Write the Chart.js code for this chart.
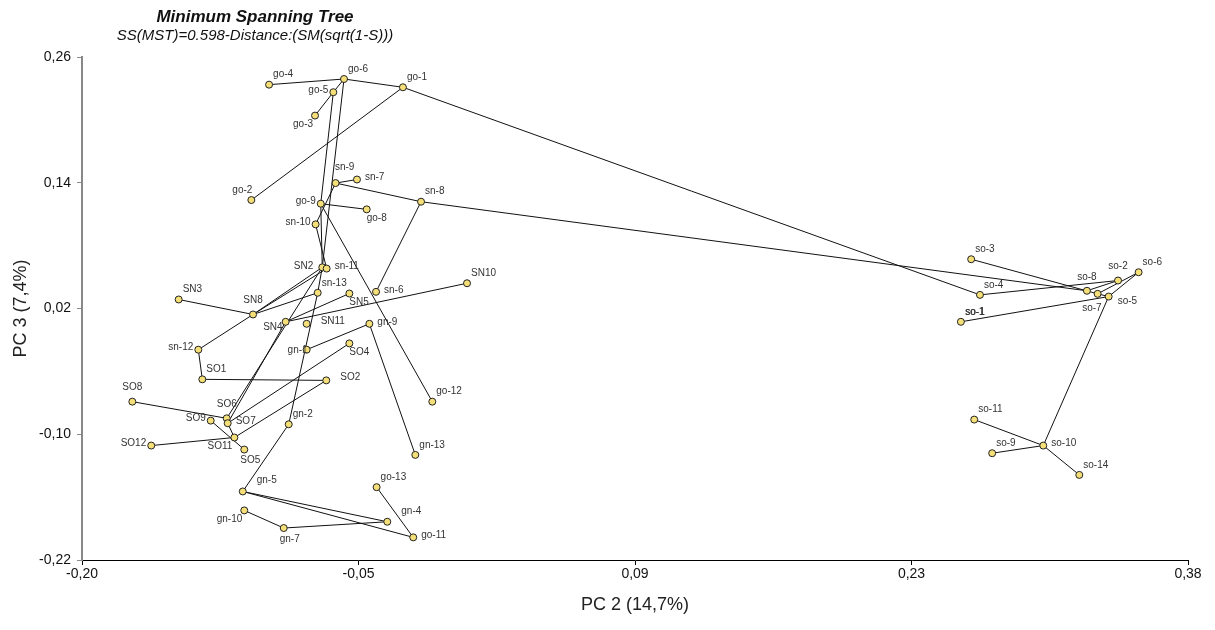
<!DOCTYPE html>
<html>
<head>
<meta charset="utf-8">
<script src="https://cdn.jsdelivr.net/npm/chart.js@4"></script>
<style>
  html, body { margin: 0; padding: 0; background: #fff; }
  #wrap { width: 1215px; height: 630px; }
</style>
</head>
<body>
<div id="wrap"><canvas id="mst"></canvas></div>
<script>
/* 점 이름 / 좌표 (PC2, PC3) */
const names = ['go-4','go-6','go-5','go-1','go-3','go-2','sn-9','sn-7','sn-8','go-9','go-8','sn-10',
  'SN2','sn-11','sn-13','SN5','sn-6','SN10','SN3','SN8','SN4','SN11','gn-9','sn-12','gn-1','SO4',
  'SO1','SO2','go-12','SO8','SO6','SO9','SO7','gn-2','SO11','SO12','SO5','gn-13','go-13','gn-5',
  'gn-10','gn-4','gn-7','go-11',
  'so-3','so-4','so-1','so-8','so-7','so-5','so-2','so-6','so-11','so-10','so-9','so-14'];
const pc2 = [-0.1019,-0.0626,-0.0682,-0.0317,-0.0778,-0.1112,-0.0670,-0.0558,-0.0222,-0.0748,-0.0507,-0.0775,
  -0.0740,-0.0717,-0.0764,-0.0598,-0.0458,0.0019,-0.1493,-0.1103,-0.0932,-0.0822,-0.0493,-0.1390,-0.0822,-0.0598,
  -0.1369,-0.0719,-0.0163,-0.1736,-0.1241,-0.1325,-0.1236,-0.0916,-0.1201,-0.1637,-0.1149,-0.0252,-0.0455,-0.1157,
  -0.1149,-0.0399,-0.0942,-0.0263,
  0.2663,0.2709,0.2609,0.3270,0.3326,0.3384,0.3433,0.3541,0.2679,0.3041,0.2773,0.3230];
const pc3 = [0.2336,0.2390,0.2264,0.2311,0.2041,0.1235,0.1397,0.1431,0.1219,0.1200,0.1146,0.1003,
  0.0593,0.0581,0.0350,0.0343,0.0359,0.0441,0.0286,0.0143,0.0073,0.0054,0.0054,-0.0193,-0.0193,-0.0133,
  -0.0476,-0.0486,-0.0689,-0.0689,-0.0848,-0.0870,-0.0895,-0.0905,-0.1031,-0.1108,-0.1146,-0.1197,-0.1505,-0.1546,
  -0.1727,-0.1835,-0.1895,-0.1984,
  0.0670,0.0330,0.0073,0.0369,0.0340,0.0314,0.0467,0.0546,-0.0860,-0.1108,-0.1181,-0.1388];

/* 트리 연결 */
const edges = [
  ['go-4','go-6'],['go-6','go-1'],['go-3','go-5'],['go-5','go-6'],['go-1','go-2'],['go-1','so-4'],
  ['go-5','go-9'],['go-6','SN2'],['sn-9','sn-7'],['sn-9','sn-8'],['sn-9','sn-10'],['sn-10','sn-11'],
  ['go-9','go-8'],['go-9','go-12'],['go-9','SN2'],['sn-8','sn-6'],['sn-8','so-8'],
  ['SN4','SN5'],['SN4','SN10'],['SN2','SO6'],['SN4','SO7'],['SN8','SN2'],['SN8','sn-11'],['SN8','sn-13'],
  ['sn-13','SN2'],['sn-13','gn-2'],['SN3','SN8'],['SN8','sn-12'],['sn-12','SO1'],['SO1','SO2'],
  ['SO2','SO11'],['SO4','SO7'],['gn-1','gn-9'],['gn-9','gn-13'],['SO8','SO6'],['SO9','SO5'],
  ['SO7','SO11'],['SO12','SO11'],['gn-2','gn-5'],['gn-5','gn-4'],['gn-5','go-11'],['gn-10','gn-7'],
  ['gn-7','gn-4'],['go-13','go-11'],
  ['so-4','so-2'],['so-3','so-7'],['so-8','so-2'],['so-7','so-6'],['so-5','so-6'],['so-7','so-5'],
  ['so-1','so-5'],['so-5','so-10'],['so-10','so-11'],['so-10','so-9'],['so-10','so-14']
];

/* 축 눈금 */
const xTicks = [-0.2, -0.055, 0.09, 0.235, 0.38];
const xTickLabels = ['-0,20','-0,05','0,09','0,23','0,38'];
const yTicks = [-0.22, -0.10, 0.02, 0.14, 0.26];
const yTickLabels = ['-0,22','-0,10','0,02','0,14','0,26'];

/* 라벨 위치 (점 기준) */
const labelSide = {
  'go-4':'ne','go-6':'ne','go-5':'w','go-1':'ne','go-3':'sw','go-2':'nw','sn-9':'n2','sn-7':'e',
  'sn-8':'ne','go-9':'w','go-8':'se','sn-10':'w','SN2':'w2','sn-11':'e','sn-13':'ne','SN5':'se',
  'sn-6':'e','SN10':'ne','SN3':'ne','SN8':'n','SN4':'wsw','SN11':'e2','gn-9':'e','sn-12':'w',
  'gn-1':'w0','SO4':'se','SO1':'ne','SO2':'e2','go-12':'ne','SO8':'n','SO6':'n','SO9':'w','SO7':'e',
  'gn-2':'ne','SO12':'w','SO11':'sw','SO5':'s','gn-13':'ne','go-13':'ne','gn-5':'ne2','gn-10':'sw',
  'gn-4':'ne2','gn-7':'s','go-11':'e','so-3':'ne','so-4':'ne','so-1':'ne','so-8':'n','so-2':'n',
  'so-6':'ne','so-7':'sw2','so-5':'se2','so-11':'ne','so-10':'e','so-9':'ne','so-14':'ne'
};
const sideOffset = {
  ne: [4, -10, 'left'], ne2: [14, -11, 'left'], e: [8, -2, 'left'], e2: [14, -3, 'left'],
  w: [-5, -2, 'right'], w2: [-9, -1, 'right'], w0: [1, 1, 'right'], wsw: [-3, 5, 'right'],
  n: [0, -14, 'center'], n2: [9, -16, 'center'], nw: [1, -10, 'right'],
  sw: [-2, 9, 'right'], sw2: [4, 14, 'right'], se: [0, 9, 'left'], se2: [9, 5, 'left'],
  s: [6, 11, 'center']
};
const doubledLabels = ['so-1']; // 겹쳐 찍혀서 진하게 보이는 라벨

const points = names.map((n, i) => ({ x: pc2[i], y: pc3[i], name: n }));
const idx = {};
names.forEach((n, i) => { idx[n] = i; });

const edgeSets = edges.map(e => ({
  type: 'scatter',
  data: [points[idx[e[0]]], points[idx[e[1]]]],
  showLine: true,
  borderColor: '#111',
  borderWidth: 1,
  pointRadius: 0,
  pointHoverRadius: 0
}));

const labelPlugin = {
  id: 'pointLabels',
  afterDatasetsDraw(chart) {
    const c = chart.ctx;
    const sx = chart.scales.x, sy = chart.scales.y;
    c.save();
    c.font = "10px 'Liberation Sans', Arial, sans-serif";
    c.fillStyle = '#333';
    c.textBaseline = 'middle';
    points.forEach(p => {
      const o = sideOffset[labelSide[p.name]] || sideOffset.ne;
      const px = sx.getPixelForValue(p.x) + o[0];
      const py = sy.getPixelForValue(p.y) + o[1];
      c.textAlign = o[2];
      c.fillText(p.name, px, py);
      if (doubledLabels.includes(p.name)) c.fillText(p.name, px + 0.6, py);
    });
    c.restore();
  }
};

const titlePlugin = {
  id: 'mstTitle',
  afterDraw(chart) {
    const c = chart.ctx;
    c.save();
    c.fillStyle = '#111';
    c.textAlign = 'center';
    c.textBaseline = 'middle';
    c.font = "italic bold 17px 'Liberation Sans', Arial, sans-serif";
    c.fillText('Minimum Spanning Tree', 255, 17);
    c.font = "italic 15px 'Liberation Sans', Arial, sans-serif";
    c.fillText('SS(MST)=0.598-Distance:(SM(sqrt(1-S)))', 255, 36);
    c.restore();
  }
};

new Chart(document.getElementById('mst'), {
  type: 'scatter',
  data: {
    datasets: [{
      data: points,
      backgroundColor: '#f4df78',
      borderColor: '#222',
      borderWidth: 1,
      pointRadius: 3.5,
      pointHoverRadius: 3.5
    }].concat(edgeSets)
  },
  options: {
    responsive: true,
    maintainAspectRatio: false,
    animation: false,
    events: [],
    layout: { padding: { top: 57, right: 27, bottom: 0, left: 0 } },
    plugins: { legend: { display: false }, tooltip: { enabled: false } },
    scales: {
      x: {
        type: 'linear',
        min: -0.2,
        max: 0.38,
        afterFit: s => { s.height = 70; },
        afterBuildTicks: s => { s.ticks = xTicks.map(v => ({ value: v })); },
        grid: { drawOnChartArea: false, tickLength: 5, color: '#000' },
        border: { color: '#000', width: 1 },
        ticks: {
          padding: 1,
          color: '#111',
          font: { family: "'Liberation Sans', Arial, sans-serif", size: 14 },
          callback: (v, i) => xTickLabels[i]
        },
        title: {
          display: true,
          text: 'PC 2 (14,7%)',
          color: '#222',
          font: { family: "'Liberation Sans', Arial, sans-serif", size: 18 },
          padding: { top: 0, bottom: 14 }
        }
      },
      y: {
        type: 'linear',
        min: -0.22,
        max: 0.26,
        afterFit: s => { s.width = 82; },
        afterBuildTicks: s => { s.ticks = yTicks.map(v => ({ value: v })); },
        grid: { drawOnChartArea: false, tickLength: 5, color: '#888' },
        border: { color: '#888', width: 2 },
        ticks: {
          padding: 6,
          color: '#111',
          font: { family: "'Liberation Sans', Arial, sans-serif", size: 14 },
          callback: (v, i) => yTickLabels[i]
        },
        title: {
          display: true,
          text: 'PC 3 (7,4%)',
          color: '#222',
          font: { family: "'Liberation Sans', Arial, sans-serif", size: 18 },
          padding: { top: 10, bottom: 0 }
        }
      }
    }
  },
  plugins: [labelPlugin, titlePlugin]
});
</script>
</body>
</html>
